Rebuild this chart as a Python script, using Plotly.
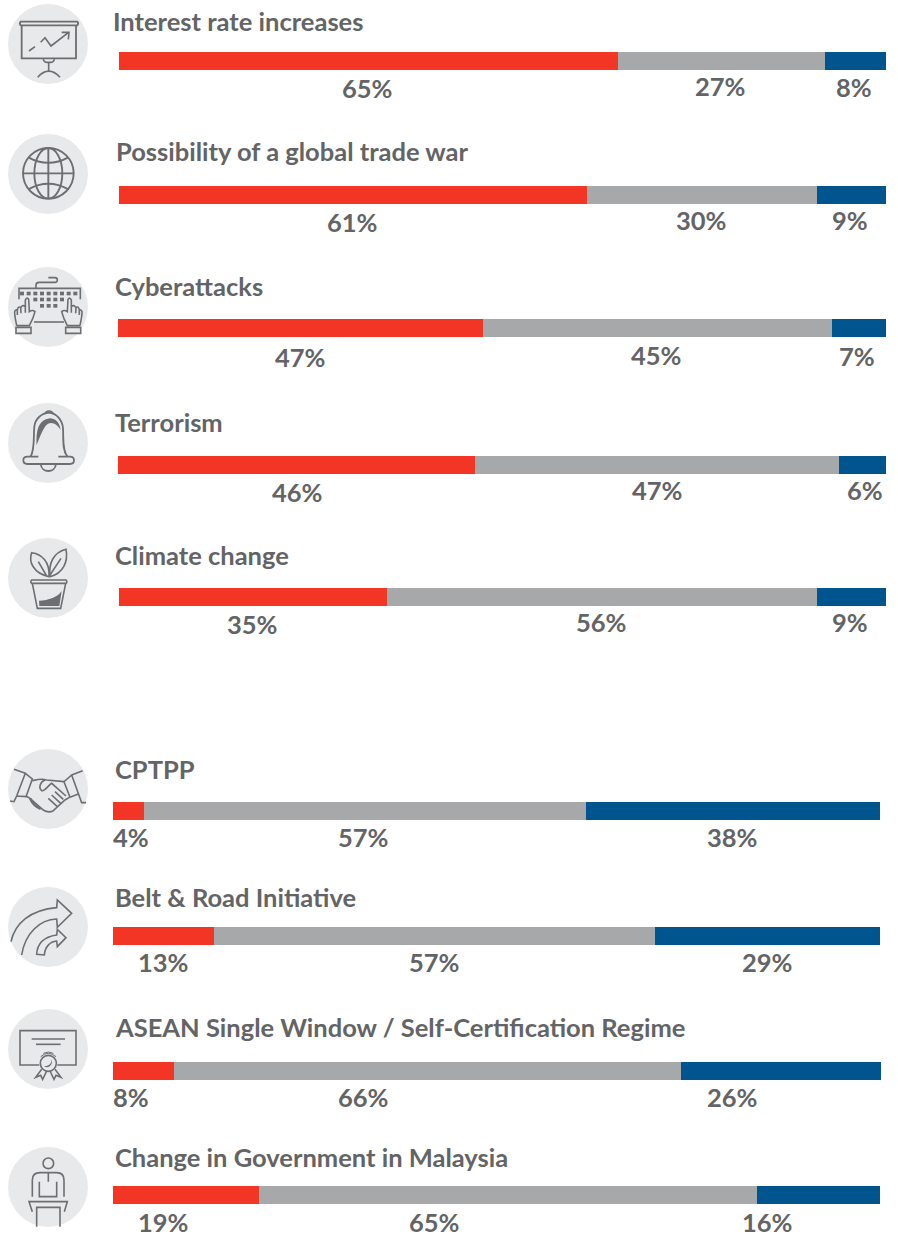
import re
import plotly.graph_objects as go

# ---------- data ----------
TOPICS = ["Interest rate increases", "Possibility of a global trade war", "Cyberattacks",
          "Terrorism", "Climate change", "CPTPP", "Belt & Road Initiative",
          "ASEAN Single Window / Self-Certification Regime", "Change in Government in Malaysia"]
RED_VALUES = [65, 61, 47, 46, 35, 4, 13, 8, 19]
GREY_VALUES = [27, 30, 45, 47, 56, 57, 57, 66, 65]
BLUE_VALUES = [8, 9, 7, 6, 9, 38, 29, 26, 16]

# ---------- layout (pixels) ----------
W, H = 898, 1234
BAR_X = [(119, 886), (119, 886), (118, 886), (118, 886), (119, 886),
         (113, 880), (113, 880), (113, 881), (113, 880)]
BAR_Y = [(52, 70), (186, 204), (319, 337), (456, 474), (588, 606),
         (802, 820), (927, 945), (1062, 1080), (1186, 1204)]
TITLE_POS = [(114, 22), (117, 152), (116, 287), (116, 423), (116, 556),
             (116, 770), (116, 898), (116, 1028), (116, 1158)]
LABEL_X = [(367, 720, 854), (352, 701, 850), (300, 656, 857), (297, 657, 865), (252, 601, 850),
           (131, 363, 732), (163, 434, 767), (131, 363, 732), (163, 434, 767)]
LABEL_Y = [(89, 87, 88), (223, 221, 221), (358, 356, 357), (493, 491, 491), (625, 623, 623),
           (838, 838, 838), (963, 963, 963), (1098, 1098, 1098), (1223, 1223, 1223)]
CIRCLES = [(48, 44), (48, 174), (48, 307), (48, 443), (48, 578),
           (48, 789), (48, 927), (48, 1049), (48, 1187)]

RED, GREY, BLUE = "#F23524", "#A7A8AA", "#00558F"
TEXT = "#636466"
ICON = "#6D6E71"
DISC = "#E8E9EB"

fig = go.Figure()
n = len(TOPICS)
for i in range(n):
    sfx = str(i + 1)
    for vals, col in ((RED_VALUES, RED), (GREY_VALUES, GREY), (BLUE_VALUES, BLUE)):
        fig.add_trace(go.Bar(y=[TOPICS[i]], x=[vals[i]], orientation="h", marker=dict(color=col, line_width=0),
                             xaxis="x" + sfx, yaxis="y" + sfx, showlegend=False, hoverinfo="skip"))
    total = RED_VALUES[i] + GREY_VALUES[i] + BLUE_VALUES[i]
    x0, x1 = BAR_X[i]
    y0, y1 = BAR_Y[i]
    fig.layout["xaxis" + sfx] = dict(domain=[x0 / W, x1 / W], range=[0, total], visible=False, fixedrange=True,
                                     anchor="y" + sfx)
    fig.layout["yaxis" + sfx] = dict(domain=[1 - y1 / H, 1 - y0 / H], visible=False, fixedrange=True,
                                     anchor="x" + sfx, type="category")

# page-wide overlay axis in pixels, for icons and text
OV = str(n + 1)
fig.add_trace(go.Scatter(x=[0], y=[0], mode="markers", marker=dict(opacity=0, size=1), xaxis="x" + OV, yaxis="y" + OV,
                         showlegend=False, hoverinfo="skip"))
fig.layout["xaxis" + OV] = dict(domain=[0, 1], range=[0, W], visible=False, fixedrange=True, anchor="y" + OV)
fig.layout["yaxis" + OV] = dict(domain=[0, 1], range=[H, 0], visible=False, fixedrange=True, anchor="x" + OV)

shapes = []
annotations = []
LW = 1.6


def scale(path, oy):
    """Icon paths are traced in 3x-zoom units; convert to page pixels."""
    toks = re.findall(r"[A-Za-z]|-?\d+\.?\d*", path)
    out, k = [], 0
    for t in toks:
        if t.isalpha():
            out.append(t)
            k = 0
        else:
            v = float(t) / 3 + (0 if k % 2 == 0 else oy)
            out.append(f"{v:.2f}")
            k += 1
    return " ".join(out)


def stroke(path, oy, w=LW, fill=None):
    shapes.append(dict(type="path", xref="x" + OV, yref="y" + OV, path=scale(path, oy),
                       line=dict(color=ICON, width=w), fillcolor=fill or "rgba(0,0,0,0)", layer="above"))


def solid(path, oy):
    shapes.append(dict(type="path", xref="x" + OV, yref="y" + OV, path=scale(path, oy),
                       line=dict(width=0), fillcolor=ICON, layer="above"))


def ring(cx, cy, rx, oy, w=LW, ry=None):
    ry = rx if ry is None else ry
    shapes.append(dict(type="circle", xref="x" + OV, yref="y" + OV,
                       x0=(cx - rx) / 3, x1=(cx + rx) / 3, y0=(cy - ry) / 3 + oy, y1=(cy + ry) / 3 + oy,
                       line=dict(color=ICON, width=w), fillcolor="rgba(0,0,0,0)", layer="above"))


def mirror(path, axis=290):
    toks = re.findall(r"[A-Za-z]|-?\d+\.?\d*", path)
    out, k = [], 0
    for t in toks:
        if t.isalpha():
            out.append(t)
            k = 0
        else:
            out.append(str(axis - float(t)) if k % 2 == 0 else t)
            k += 1
    return " ".join(out)


for cx, cy in CIRCLES:
    shapes.append(dict(type="circle", xref="x" + OV, yref="y" + OV, x0=cx - 40, x1=cx + 40, y0=cy - 40, y1=cy + 40,
                       line_width=0, fillcolor=DISC, layer="below"))

# 1 projector screen
stroke("M 62 65 L 232 65 Q 237 70 232 76 L 62 76 Q 57 70 62 65 Z", 0, 1.8)
stroke("M 65 76 L 65 175 L 228 175 L 228 76", 0, 1.8)
stroke("M 130 175 Q 130 187 140 187 L 153 187 Q 163 187 163 175", 0)
stroke("M 146 187 L 146 213", 0)
stroke("M 113 232 Q 146 195 180 232", 0)
stroke("M 87 153 L 105 140 M 122 127 L 135 113 L 153 138 L 205 98 M 185 97 L 207 97 L 205 118", 0)

# 2 globe
ring(145, 520, 76, 0, 1.9)
ring(145, 520, 42, 0, 1.9, ry=76)
stroke("M 69 520 L 221 520 M 145 444 L 145 596", 0, 1.9)
stroke("M 85 472 Q 145 505 205 472 M 85 568 Q 145 535 205 568", 0, 1.9)

# 3 keyboard and hands
stroke("M 57 118 L 57 85 L 241 85 L 241 118", 260)
stroke("M 108 85 L 108 75 Q 108 67 118 67 L 165 67 Q 172 67 172 60 Q 172 53 165 53 L 145 53", 260)
for kx in (66, 86, 106, 126, 146, 166, 186, 206, 226):
    solid(f"M {kx - 6} 95 L {kx + 6} 95 L {kx + 6} 106 L {kx - 6} 106 Z", 260)
for kx in (106, 126, 146, 166, 186):
    solid(f"M {kx - 6} 113 L {kx + 6} 113 L {kx + 6} 124 L {kx - 6} 124 Z", 260)
for kx in (126, 146, 166):
    solid(f"M {kx - 6} 132 L {kx + 6} 132 L {kx + 6} 143 L {kx - 6} 143 Z", 260)
stroke("M 102 186 L 192 186", 260)
hand = ("M 50 197 C 47 180 43 165 44 155 Q 46 148 52 150 L 52 165 M 52 150 Q 54 138 62 142 L 63 160 "
        "M 63 142 Q 68 133 76 140 L 76 158 M 76 140 L 76 120 Q 80 110 86 118 L 88 155 "
        "Q 98 148 105 155 Q 100 175 88 197 L 50 197")
cuff = "M 48 202 L 93 202 L 93 220 L 48 220 Z"
for p in (hand, cuff):
    stroke(p, 260)
    stroke(mirror(p), 260)

# 4 bell
stroke("M 92 590 C 105 565 100 530 103 500 C 106 475 125 460 147 458 C 170 460 187 480 189 505 "
       "C 191 535 186 570 202 590", 260, 1.8)
stroke("M 135 462 Q 137 453 147 453 Q 157 453 160 462", 260)
stroke("M 115 590 L 82 590 Q 70 590 70 601 Q 70 612 82 612 L 210 612 Q 222 612 222 601 Q 222 590 210 590 L 175 590",
       260, 1.8)
stroke("M 122 612 C 125 640 165 640 168 612", 260, 1.8)
solid("M 110 555 C 108 510 115 480 150 475 C 165 475 178 485 182 510 C 170 490 150 480 135 500 "
      "C 125 515 118 535 110 555 Z", 260)

# 5 plant
stroke("M 95 150 L 198 150 Q 203 155 198 160 L 95 160 Q 90 155 95 150 Z", 530)
stroke("M 97 160 L 112 235 L 182 235 L 197 160", 530)
solid("M 117 212 C 145 212 175 200 185 183 L 178 228 L 118 228 Z", 530)
stroke("M 147 140 C 100 130 85 95 95 68 C 125 72 150 95 147 140 Z M 115 95 L 140 138", 530)
stroke("M 150 140 C 145 100 160 68 198 58 C 205 95 190 130 150 140 M 183 85 L 150 135", 530)

# 6 handshake
stroke("M 42 88 L 76 100 L 50 168 L 42 185 L 30 183 M 76 100 L 97 117 L 78 170 L 50 168", 740)
stroke("M 248 92 L 215 105 L 245 188 L 258 188 M 215 105 L 192 125 L 210 172 L 235 162", 740)
stroke("M 97 122 C 115 118 125 115 140 120 L 192 125", 740)
stroke("M 135 120 C 120 125 115 145 125 152 C 135 155 145 135 155 130 L 198 168", 740)
stroke("M 78 168 L 90 175 L 130 210 Q 145 220 160 212 L 195 180 L 208 172", 740)
stroke("M 145 175 L 172 200 M 155 165 L 182 190 M 165 155 L 190 178", 740)
stroke("M 90 175 Q 100 198 122 207", 740, 2.4)

# 7 arrows
stroke("M 33 605 C 45 550 90 510 170 503 L 172 480 L 215 520 L 172 562 L 170 537 C 120 538 75 580 65 645", 740)
stroke("M 110 643 C 112 605 135 590 170 585 L 172 568 L 198 593 L 172 620 L 170 603 "
       "C 150 605 135 620 133 645 L 110 643 Z", 740)

# 8 certificate
stroke("M 118 195 L 60 195 L 60 92 L 228 92 L 228 195 L 172 195", 1000)
stroke("M 95 117 L 195 117", 1000)
stroke("M 108 133 L 182 133", 1000)
ring(145, 190, 24, 1000)
stroke("M 122 170 Q 145 150 168 170 M 130 160 Q 145 152 160 160", 1000, 1.0)
solid("M 155 178 C 160 195 145 208 132 198 C 145 200 155 192 155 178 Z", 1000)
rib = "M 125 208 L 107 232 L 122 226 L 128 238 L 140 213"
stroke(rib, 1000)
stroke(mirror(rib), 1000)

# 9 person at lectern
ring(145, 490, 16, 1000)
stroke("M 97 590 L 97 540 Q 97 518 120 518 L 170 518 Q 192 518 192 540 L 192 590", 1000)
stroke("M 118 545 L 118 590 L 170 590 L 170 545 M 145 518 L 145 545", 1000)
stroke("M 97 635 L 87 605 L 202 605 L 193 635", 1000)
stroke("M 110 680 L 110 622 L 180 622 L 180 680", 1000)

# ---------- text ----------
for i in range(n):
    tx, ty = TITLE_POS[i]
    annotations.append(dict(x=tx, y=ty, xref="x" + OV, yref="y" + OV, text=TOPICS[i], showarrow=False,
                            xanchor="left", yanchor="middle", xshift=-3, yshift=1.5,
                            font=dict(family="Lato", size=25.5, color=TEXT, weight="bold")))
    vals = (RED_VALUES[i], GREY_VALUES[i], BLUE_VALUES[i])
    for v, lx, ly in zip(vals, LABEL_X[i], LABEL_Y[i]):
        annotations.append(dict(x=lx, y=ly, xref="x" + OV, yref="y" + OV, text=f"{v}%", showarrow=False,
                                xanchor="center", yanchor="middle", yshift=1.5,
                                font=dict(family="Lato", size=25.5, color=TEXT, weight="bold")))

fig.update_layout(width=W, height=H, autosize=False, margin=dict(l=0, r=0, t=0, b=0, pad=0),
                  barmode="stack", bargap=0, paper_bgcolor="white", plot_bgcolor="rgba(0,0,0,0)",
                  showlegend=False, shapes=shapes, annotations=annotations, hovermode=False)
fig.write_html("out.html", config=dict(displayModeBar=False, responsive=False),
               post_script="document.body.style.margin='0';document.body.style.overflow='hidden';")
